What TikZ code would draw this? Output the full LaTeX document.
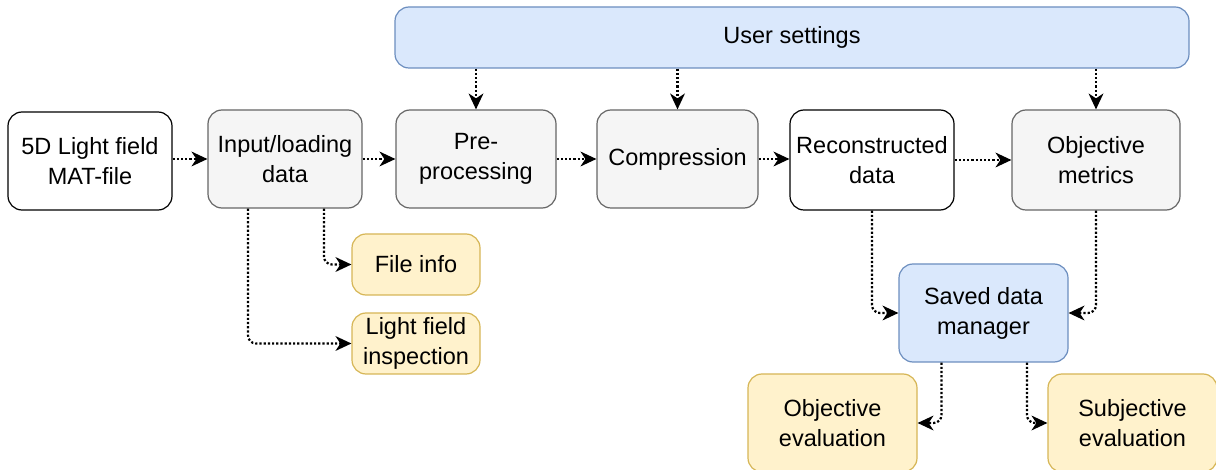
\documentclass[tikz,border=0pt]{standalone}
\usepackage{fontspec}
\setmainfont{Liberation Sans}
\usetikzlibrary{arrows.meta}
\definecolor{grayfill}{HTML}{F5F5F5}
\definecolor{grayline}{HTML}{666666}
\definecolor{bluefill}{HTML}{DAE8FC}
\definecolor{blueline}{HTML}{6C8EBF}
\definecolor{yellowfill}{HTML}{FFF2CC}
\definecolor{yellowline}{HTML}{D6B656}
\tikzset{
  box/.style={draw, rounded corners=14pt, line width=1.2pt, align=center,
    inner sep=0pt, font=\fontsize{23.5}{30}\selectfont},
  plainbox/.style={box, draw=black, fill=white},
  graybox/.style={box, draw=grayline, fill=grayfill},
  bluebox/.style={box, draw=blueline, fill=bluefill},
  yellowbox/.style={box, draw=yellowline, fill=yellowfill},
  flow/.style={draw=black, line width=2.2pt, dash pattern=on 2.2pt off 2pt,
    rounded corners=8pt,
    -{Stealth[length=16pt,width=15pt,inset=5pt,line width=0pt]}}
}
\begin{document}
\begin{tikzpicture}[x=1pt,y=-1pt]
\useasboundingbox (0,0) rectangle (1216,470);

% main processing chain
\node[plainbox, minimum width=164pt, minimum height=98pt] (lf) at (90,161) {5D Light field\\MAT-file};
\node[graybox, minimum width=154pt, minimum height=98pt] (inp) at (285,159) {Input/loading\\data};
\node[graybox, minimum width=160pt, minimum height=98pt] (pre) at (476,159) {Pre-\\processing};
\node[graybox, minimum width=161pt, minimum height=98pt] (comp) at (677.5,159) {Compression};
\node[plainbox, minimum width=164pt, minimum height=100pt] (rec) at (872,160) {Reconstructed\\data};
\node[graybox, minimum width=168pt, minimum height=100pt] (om) at (1096,160) {Objective\\metrics};

% settings bar
\node[bluebox, minimum width=794pt, minimum height=61pt] (us) at (792,37.5) {User settings};

% side outputs of the loader
\node[yellowbox, minimum width=128pt, minimum height=61pt] (fi) at (416,264.5) {File info};
\node[yellowbox, minimum width=128pt, minimum height=61pt] (lfi) at (416,343.5) {Light field\\inspection};

% evaluation part
\node[bluebox, minimum width=169pt, minimum height=98pt] (sdm) at (983.5,313) {Saved data\\manager};
\node[yellowbox, minimum width=169pt, minimum height=98pt] (oe) at (832.5,423) {Objective\\evaluation};
\node[yellowbox, minimum width=169pt, minimum height=98pt] (se) at (1132.5,423) {Subjective\\evaluation};

% chain connectors
\draw[flow] (lf.east |- 0,159) -- (inp.west);
\draw[flow] (inp) -- (pre);
\draw[flow] (pre) -- (comp);
\draw[flow] (comp.east) -- (rec.west |- comp.east);
\draw[flow] (rec) -- (om);

% settings connectors
\draw[flow] (pre |- us.south) -- (pre.north);
\draw[flow] (comp |- us.south) -- (comp.north);
\draw[flow] (om |- us.south) -- (om.north);

% loader outputs
\draw[flow] ([xshift=39pt]inp.south) |- (fi.west);
\draw[flow] ([xshift=-37pt]inp.south) |- (lfi.west);

% saving and evaluation
\draw[flow] (rec.south) |- (sdm.west);
\draw[flow] (om.south) |- (sdm.east);
\draw[flow] ([xshift=-42pt]sdm.south) |- (oe.east);
\draw[flow] ([xshift=43.5pt]sdm.south) |- (se.west);
\end{tikzpicture}
\end{document}
